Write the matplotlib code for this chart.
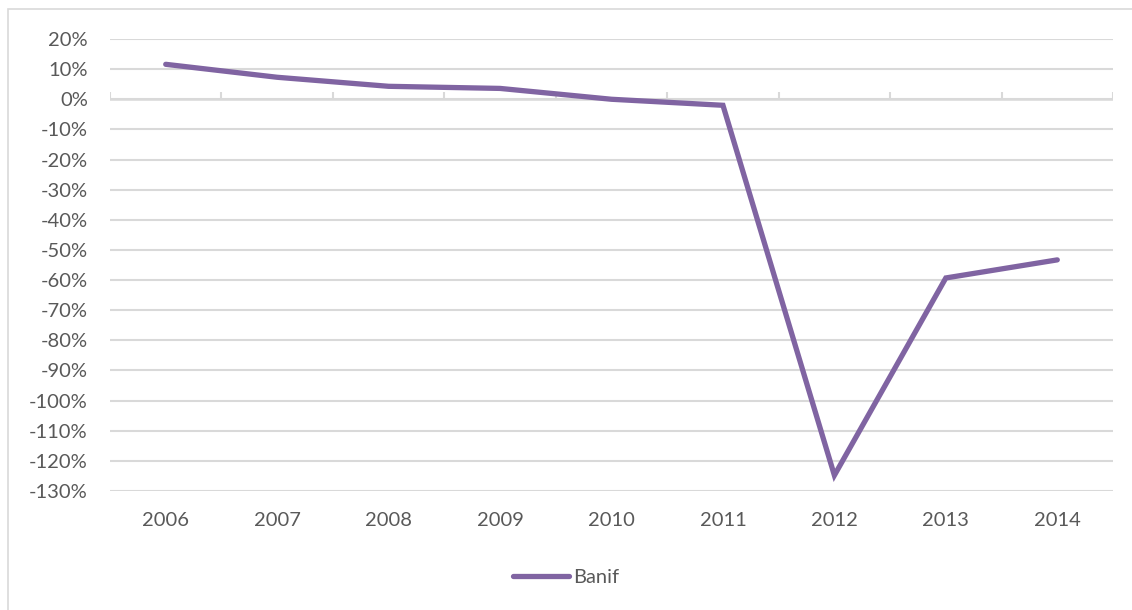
import numpy as np
import matplotlib.pyplot as plt
from matplotlib.patches import Rectangle
from matplotlib.ticker import FuncFormatter

years = ['2006', '2007', '2008', '2009', '2010', '2011', '2012', '2013', '2014']
banif = [0.116, 0.073, 0.043, 0.036, 0.0, -0.020, -1.248, -0.593, -0.533]

purple = '#8064A2'
grid_c = '#D9D9D9'
text_c = '#595959'

plt.rcParams['font.family'] = ['Lato', 'DejaVu Sans']

fig = plt.figure(figsize=(11.32, 6.1), dpi=100)
fig.patches.append(Rectangle((8 / 1132, -0.1), 1.2, 1 - 9 / 610 + 0.1,
                             transform=fig.transFigure, fill=False,
                             edgecolor=grid_c, lw=1.2))

ax = fig.add_axes([110 / 1132, 1 - 491 / 610, (1113 - 110) / 1132, (491 - 39) / 610])
x = np.arange(len(years))

ax.set_xlim(-0.5, len(years) - 0.5)
ax.set_ylim(-1.3, 0.2)
yt = np.arange(-1.3, 0.21, 0.1)
ax.set_yticks(yt)
ax.yaxis.set_major_formatter(FuncFormatter(lambda v, p: f'{round(v * 100):d}%'))
for v in yt:
    ax.axhline(v, color=grid_c, lw=1.5, zorder=1)

# category axis at 0 with boundary ticks
ax.axhline(0, color=grid_c, lw=1.8, zorder=1)
ax.vlines(np.arange(-0.5, len(years)), 0, 0.024, color=grid_c, lw=1.5, zorder=1)

ax.plot(x, banif, color=purple, lw=3.8, solid_capstyle='round',
        solid_joinstyle='miter', zorder=3, label='Banif')

ax.set_xticks(x)
ax.set_xticklabels(years)
ax.tick_params(axis='both', length=0, labelsize=14.5, labelcolor=text_c)
ax.tick_params(axis='x', pad=15)
ax.tick_params(axis='y', pad=16)
for s in ax.spines.values():
    s.set_visible(False)

leg = fig.legend(loc='center', bbox_to_anchor=(0.5, 1 - 577 / 610), frameon=False,
                 fontsize=14.5, handlelength=2.8, handletextpad=0.2)
for t in leg.get_texts():
    t.set_color(text_c)

fig.savefig('out.png', dpi=100)
